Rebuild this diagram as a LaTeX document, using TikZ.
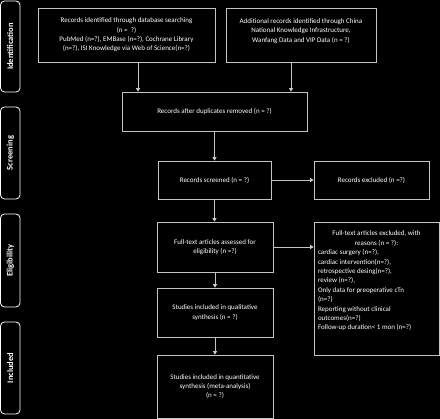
\documentclass[tikz,border=0pt]{standalone}
\usepackage{fontspec}
\setmainfont{Carlito}
\usetikzlibrary{positioning,arrows.meta,calc}
\definecolor{edgegray}{HTML}{C4C4C4}
\begin{document}
\begin{tikzpicture}[x=1pt,y=-1pt,font=\fontsize{7}{9.4}\selectfont,
  st/.style={draw=edgegray,line width=0.7pt,align=center,fill=black,text=white,inner sep=2pt},
  ar/.style={-{Triangle[length=3.6pt,width=4.2pt,fill=white]},draw=edgegray,line width=0.8pt},
  phase/.style={draw=white,line width=0.8pt,rounded corners=4pt,fill=black,text=white,
    font=\fontsize{8.5}{10}\selectfont\bfseries,rotate=90,minimum height=19.5pt,inner sep=1pt}]
  \fill[black] (0,0) rectangle (440,419);
  % phase labels
  \node[phase,minimum width=91pt] (pid) at (10.25,46.5) {Identification};
  \node[phase,minimum width=92pt] (psc) at (10.25,153) {Screening};
  \node[phase,minimum width=93pt] (pel) at (10.25,260.5) {Eligibility};
  \node[phase,minimum width=92pt] (pin) at (10.25,368) {Included};
  % boxes
  \node[st,minimum width=177pt,minimum height=54pt] (db) at (126.5,35)
    {Records identified through database searching\\ (n =~~?)\\ PubMed (n=?), EMBase (n=?), Cochrane Library\\ (n=?), ISI Knowledge via Web of Science(n=?)};
  \node[st,minimum width=150pt,minimum height=54pt] (cn) at (301,35)
    {Additional records identified through China\\ National Knowledge Infrastructure,\\ Wanfang Data and VIP Data (n = ?)\\ \mbox{}};
  \node[st,minimum width=185pt,minimum height=39pt] (dup) at (214.5,111.5) {Records after duplicates removed (n = ?)};
  \node[st,minimum width=113pt,minimum height=38pt] (scr) at (214.5,180) {Records screened (n = ?)};
  \node[st,minimum width=115pt,minimum height=38pt] (exc) at (371.5,180) {Records excluded (n =?)};
  \node[st,minimum width=116pt,minimum height=50pt] (full) at (215,247) {Full-text articles assessed for\\ eligibility (n =?)};
  \node[st,minimum width=125pt,minimum height=133pt,inner sep=0pt] (rsn) at (376.5,288.5)
    {\parbox{117pt}{\centering Full-text articles excluded, with\\ reasons (n = ?):\par
     \raggedright cardiac surgery (n=?),\\ cardiac intervention(n=?),\\ retrospective desing(n=?),\\ review (n=?),\\
     Only data for preoperative cTn\\ (n=?)\\ Reporting without clinical\\ outcomes(n=?)\\ Follow-up duration< 1 mon (n=?)\par\vspace{15pt}}};
  \node[st,minimum width=116pt,minimum height=49pt] (qual) at (215,312.5) {Studies included in qualitative\\ synthesis (n = ?)};
  \node[st,minimum width=116pt,minimum height=63pt] (quan) at (215,386.5) {Studies included in quantitative\\ synthesis (meta-analysis)\\ (n = ?)};
  % connectors
  \draw[ar] ([xshift=11.5pt]db.south) -- ([xshift=11.5pt]db.south |- dup.north);
  \draw[ar] ([xshift=-10pt]cn.south) -- ([xshift=-10pt]cn.south |- dup.north);
  \draw[ar] (dup) -- (scr);
  \draw[ar] (scr) -- (exc);
  \draw[ar] (scr.south) -- (scr.south |- full.north);
  \draw[ar] (full.east) -- (full.east -| rsn.west);
  \draw[ar] (full) -- (qual);
  \draw[ar] (qual) -- (quan);
\end{tikzpicture}
\end{document}
